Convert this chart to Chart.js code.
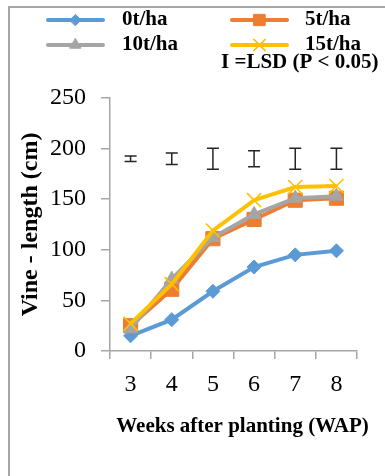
<!DOCTYPE html>
<html>
<head>
<meta charset="utf-8">
<script src="https://cdn.jsdelivr.net/npm/chart.js@4.4.1/dist/chart.umd.min.js"></script>
<style>
  html, body { margin: 0; padding: 0; background: #fff; }
  #wrap { position: relative; width: 385px; height: 476px; overflow: hidden; }
  #frame { position: absolute; left: 8px; top: 6px; width: 420px; height: 520px;
           border-top: 2px solid #a6a6a6; border-left: 2px solid #a6a6a6; }
  #vine { position: absolute; left: 0; top: 0; }
</style>
</head>
<body>
<div id="wrap">
  <div id="frame"></div>
  <canvas id="vine" width="385" height="476"></canvas>
</div>
<script>
const weeks = ['3', '4', '5', '6', '7', '8'];
const yTicks = [0, 50, 100, 150, 200, 250];

const rate0 = [15, 31, 59, 83, 95, 99];
const rate5 = [25, 61, 111, 130, 149, 151];
const rate10 = [22, 71, 112, 135, 151, 153];
const rate15 = [27, 66, 119, 149, 162, 163];

const seriesNames = ['0t/ha', '5t/ha', '10t/ha', '15t/ha'];
const lsdCentre = [190, 190, 190, 190, 190, 190];
const lsdValues = [5.6, 11.5, 20.6, 15.7, 20.6, 20.6];
const lsdLabel = 'I =LSD (P < 0.05)';
const xTitle = 'Weeks after planting (WAP)';

const serif = '"Liberation Serif", "Times New Roman", "DejaVu Serif", serif';
const axisGrey = '#a6a6a6';

function series(label, data, color, style, radius, order) {
  return {
    label, data,
    borderColor: color,
    backgroundColor: color,
    pointBackgroundColor: color,
    pointBorderColor: color,
    pointStyle: style,
    pointRadius: radius,
    pointBorderWidth: style === 'crossRot' ? 1.6 : 1,
    borderWidth: 4,
    tension: 0,
    fill: false,
    order
  };
}

// LSD bars drawn against the chart's own scales
const lsdBars = {
  id: 'lsdBars',
  afterDatasetsDraw(chart) {
    const ctx = chart.ctx;
    const xs = chart.scales.x, ys = chart.scales.y;
    ctx.save();
    ctx.strokeStyle = '#262626';
    ctx.lineWidth = 1.5;
    lsdCentre.forEach((c, i) => {
      const x = xs.getPixelForValue(i);
      const top = ys.getPixelForValue(c + lsdValues[i] / 2);
      const bot = ys.getPixelForValue(c - lsdValues[i] / 2);
      ctx.beginPath();
      ctx.moveTo(x, top); ctx.lineTo(x, bot);
      ctx.moveTo(x - 6, top); ctx.lineTo(x + 6, top);
      ctx.moveTo(x - 6, bot); ctx.lineTo(x + 6, bot);
      ctx.stroke();
    });
    ctx.restore();
  }
};

// two-column legend like the original, plus the x title (not squeezed to axis width)
const gridLegend = {
  id: 'gridLegend',
  afterDraw(chart) {
    const ctx = chart.ctx;
    const lineX = [48, 232], textX = [122, 305], rowY = [20, 45];
    ctx.save();
    ctx.font = 'bold 21px ' + serif;
    ctx.textBaseline = 'middle';
    ctx.textAlign = 'left';
    chart.data.datasets.forEach((ds, i) => {
      const col = i % 2, row = Math.floor(i / 2);
      const x0 = lineX[col], y = rowY[row];
      ctx.strokeStyle = ds.borderColor;
      ctx.lineWidth = 4;
      ctx.lineCap = 'round';
      ctx.beginPath();
      ctx.moveTo(x0, y); ctx.lineTo(x0 + 55, y);
      ctx.stroke();
      ctx.fillStyle = ds.pointBackgroundColor;
      ctx.strokeStyle = ds.pointBorderColor;
      ctx.lineWidth = ds.pointBorderWidth;
      Chart.helpers.drawPoint(ctx, {
        pointStyle: ds.pointStyle, rotation: 0,
        radius: ds.pointRadius * 0.8, borderWidth: ds.pointBorderWidth
      }, x0 + 27.5, y);
      ctx.fillStyle = '#000';
      ctx.fillText(ds.label, textX[col], y);
    });
    ctx.fillText(lsdLabel, 221, 63);

    const xs = chart.scales.x;
    ctx.font = 'bold 21px ' + serif;
    ctx.textAlign = 'center';
    ctx.fillText(xTitle, (xs.left + xs.right) / 2 + 9, 427);
    ctx.restore();
  }
};

new Chart(document.getElementById('vine'), {
  type: 'line',
  data: {
    labels: weeks,
    datasets: [
      series(seriesNames[0], rate0, '#5b9bd5', 'rectRot', 7, 4),
      series(seriesNames[1], rate5, '#ed7d31', 'rect', 10, 3),
      series(seriesNames[2], rate10, '#a5a5a5', 'triangle', 8, 2),
      series(seriesNames[3], rate15, '#ffc000', 'crossRot', 10, 1)
    ]
  },
  options: {
    responsive: false,
    animation: false,
    layout: { padding: { left: 6, right: 28, top: 98, bottom: 36 } },
    plugins: { legend: { display: false }, tooltip: { enabled: false } },
    scales: {
      x: {
        offset: true,
        afterFit: s => { s.height = 89; },
        grid: { offset: true, drawOnChartArea: false, tickLength: 8, color: axisGrey, lineWidth: 1.5 },
        border: { color: axisGrey, width: 1.5 },
        ticks: { color: '#000', padding: 11, font: { family: serif, size: 24 } },
        title: { display: false }
      },
      y: {
        min: 0, max: 250,
        afterFit: s => { s.width = 104; },
        afterBuildTicks: s => { s.ticks = yTicks.map(v => ({ value: v })); },
        grid: { drawOnChartArea: false, tickLength: 9, color: axisGrey, lineWidth: 1.5 },
        border: { color: axisGrey, width: 1.5 },
        ticks: { color: '#000', padding: 15, font: { family: serif, size: 24 } },
        title: { display: true, text: 'Vine - length (cm)', color: '#000',
                 padding: { top: 10, bottom: 0 }, font: { family: serif, size: 24, weight: 'bold' } }
      }
    }
  },
  plugins: [lsdBars, gridLegend]
});
</script>
</body>
</html>
